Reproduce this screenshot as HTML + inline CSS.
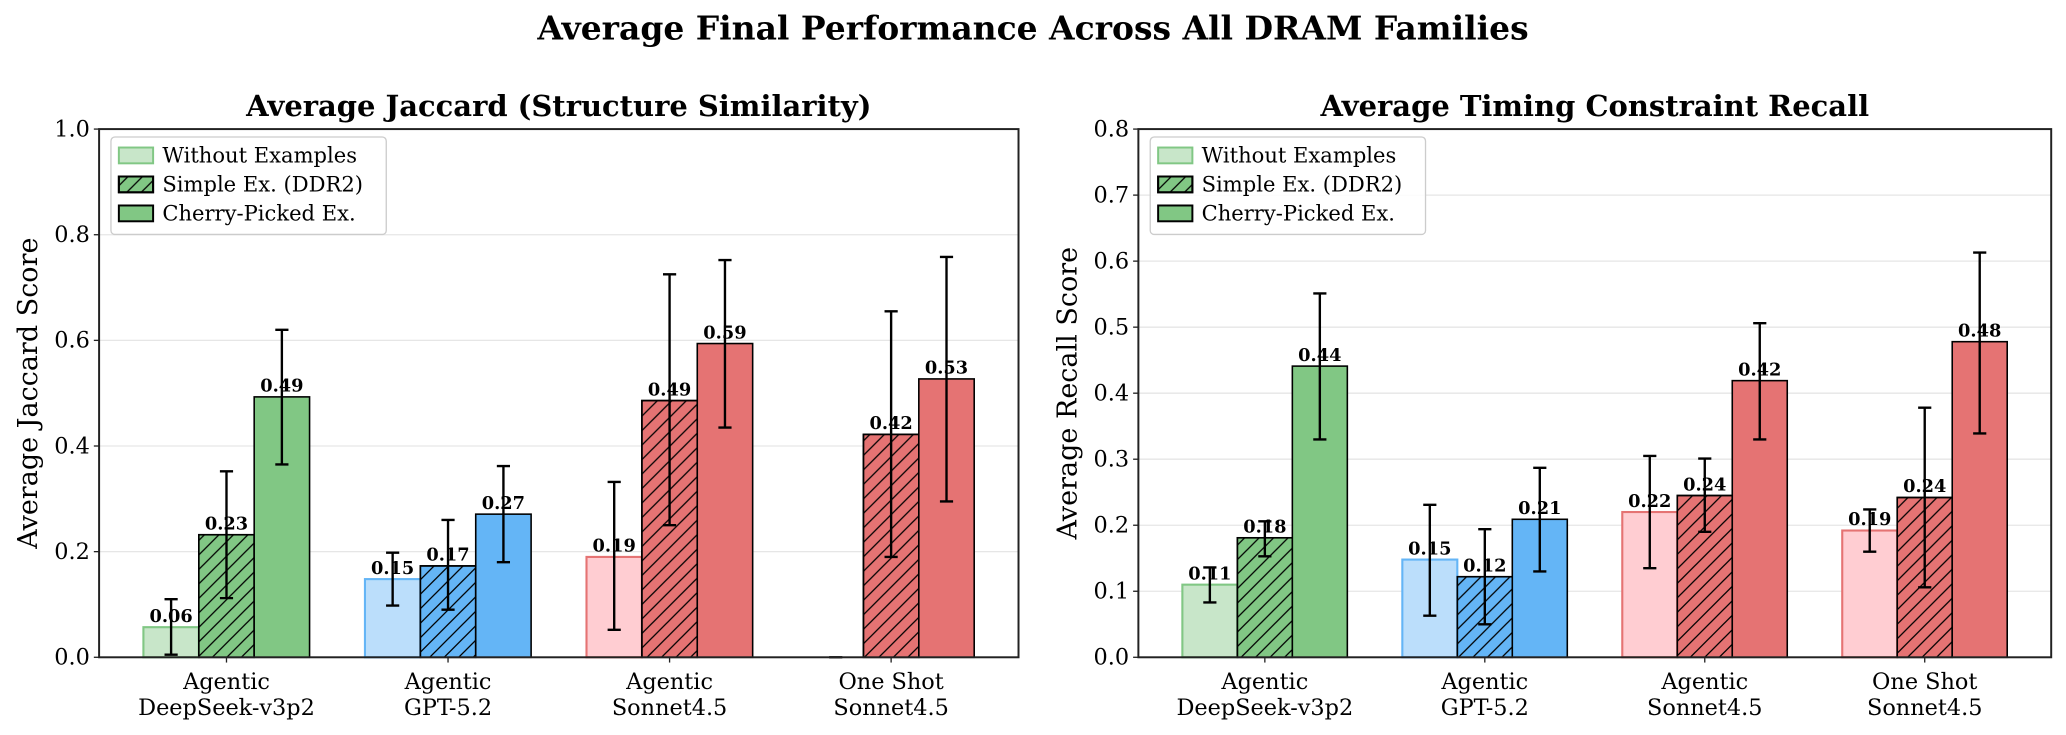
<!DOCTYPE html>
<html><head><meta charset="utf-8"><style>
html,body{margin:0;padding:0;background:#fff;}
svg{display:block;font-family:"DejaVu Serif","Liberation Serif",serif;}
</style></head><body>
<svg id="fig" width="2066" height="735" viewBox="0 0 1568 558" xmlns="http://www.w3.org/2000/svg">
<defs>
<pattern id="hatch" patternUnits="userSpaceOnUse" width="11" height="11">
<path d="M-2,13 L13,-2 M-2,2 L2,-2 M9,13 L13,9" stroke="#000" stroke-width="1"/>
</pattern>
</defs>
<text x="784" y="30" text-anchor="middle" font-size="25" font-weight="bold">Average Final Performance Across All DRAM Families</text>
</svg>
<script>
const categoriesL1 = ["Agentic","Agentic","Agentic","One Shot"];
const categoriesL2 = ["DeepSeek-v3p2","GPT-5.2","Sonnet4.5","Sonnet4.5"];
const seriesNames = ["Without Examples","Simple Ex. (DDR2)","Cherry-Picked Ex."];
const jaccardValues = [[0.057,0.148,0.19,0.0],[0.232,0.173,0.486,0.422],[0.493,0.271,0.594,0.527]];
const jaccardLow = [[0.005,0.098,0.052,0.0],[0.112,0.09,0.25,0.19],[0.365,0.18,0.435,0.295]];
const jaccardHigh = [[0.11,0.198,0.332,0.0],[0.352,0.26,0.725,0.655],[0.62,0.362,0.752,0.758]];
const recallValues = [[0.11,0.148,0.22,0.192],[0.181,0.122,0.245,0.242],[0.441,0.209,0.419,0.478]];
const recallLow = [[0.083,0.063,0.135,0.16],[0.153,0.05,0.19,0.106],[0.33,0.13,0.33,0.339]];
const recallHigh = [[0.136,0.231,0.305,0.224],[0.206,0.194,0.301,0.378],[0.551,0.287,0.506,0.613]];
const jaccardTicks = [0.0,0.2,0.4,0.6,0.8,1.0];
const recallTicks = [0.0,0.1,0.2,0.3,0.4,0.5,0.6,0.7,0.8];
const groupColors = [["#c8e6c9","#81c784"],["#bbdefb","#64b5f6"],["#ffcdd2","#e57373"],["#ffcdd2","#e57373"]];

const NS="http://www.w3.org/2000/svg";
const svg=document.getElementById('fig');
function mk(tag,attrs,parent){const e=document.createElementNS(NS,tag);for(const k in attrs)e.setAttribute(k,attrs[k]);(parent||svg).appendChild(e);return e;}

function panel(o){
  const g=mk('g',{});
  
  
  const L=o.left,R=o.right,T=98,B=499;
  const xs=v=>L+(v+0.575)/4.15*(R-L);
  const ys=v=>B-v/o.ymax*(B-T);
  const bw=0.25;
  o.ticks.forEach(t=>{
    if(t>0&&t<o.ymax){const gl=mk('line',{x1:L,x2:R,y1:ys(t),y2:ys(t),stroke:'#e6e6e6','stroke-width':1},g);
    }
  });
  for(let s=0;s<3;s++){
    for(let c=0;c<4;c++){
      const v=o.vals[s][c];
      const cx=xs(c+(s-1)*bw);
      const x0=xs(c+(s-1)*bw-bw/2), x1=xs(c+(s-1)*bw+bw/2);
      const cols=groupColors[c];
      const fill=s===0?cols[0]:cols[1];
      const stroke=s===0?cols[1]:'#000';
      const r=mk('rect',{x:x0,y:ys(v),width:x1-x0,height:ys(0)-ys(v),fill:fill,stroke:stroke,'stroke-width':s===0?1.6:1.2},g);
      
      
      if(s===1){const h=mk('rect',{x:x0,y:ys(v),width:x1-x0,height:ys(0)-ys(v),fill:'url(#hatch)',stroke:'#000','stroke-width':1.2},g);
        }
      const lo=o.lo[s][c],hi=o.hi[s][c];
      if(hi>lo){
        const eb=mk('path',{d:`M${cx},${ys(lo)}V${ys(hi)}M${cx-5},${ys(lo)}H${cx+5}M${cx-5},${ys(hi)}H${cx+5}`,stroke:'#000','stroke-width':1.8,fill:'none'},g);
        
      } else {
        const eb=mk('path',{d:`M${cx-5},${ys(lo)}H${cx+5}`,stroke:'#000','stroke-width':1.8,fill:'none'},g);
        
      }
      if(v>0){
        const tl=mk('text',{x:cx,y:ys(v)-4,'text-anchor':'middle','font-size':13.5,'font-weight':'bold'},g);
        tl.textContent=v.toFixed(2);
        
      }
    }
  }
  const sp=mk('rect',{x:L,y:T,width:R-L,height:B-T,fill:'none',stroke:'#222','stroke-width':1.5},g);
  
  o.ticks.forEach(t=>{
    mk('line',{x1:L-4,x2:L,y1:ys(t),y2:ys(t),stroke:'#222','stroke-width':1},g);
    const tt=mk('text',{x:L-7,y:ys(t)+5.5,'text-anchor':'end','font-size':17},g);
    tt.textContent=t.toFixed(1);
    
  });
  for(let c=0;c<4;c++){
    mk('line',{x1:xs(c),x2:xs(c),y1:B,y2:B+4,stroke:'#222','stroke-width':1},g);
    const t1=mk('text',{x:xs(c),y:523,'text-anchor':'middle','font-size':17},g);
    t1.textContent=categoriesL1[c];
    
    const t2=mk('text',{x:xs(c),y:543,'text-anchor':'middle','font-size':17},g);
    t2.textContent=categoriesL2[c];
    
  }
  const yt=mk('text',{x:0,y:0,'text-anchor':'middle','font-size':20.5,transform:`translate(${L-47},${(T+B)/2}) rotate(-90)`},g);
  yt.textContent=o.ylabel;
  
  const ti=mk('text',{x:(L+R)/2,y:88,'text-anchor':'middle','font-size':22,'font-weight':'bold'},g);
  ti.textContent=o.title;
  
  const lg=mk('g',{},g);
  
  mk('rect',{x:L+9,y:104,width:209,height:74,rx:3,fill:'#fff','fill-opacity':0.85,stroke:'#ccc','stroke-width':1},lg);
  for(let s=0;s<3;s++){
    const y=112+s*22;
    const pf=s===0?'#c8e6c9':'#81c784', ps=s===0?'#81c784':'#000';
    mk('rect',{x:L+15,y:y,width:26,height:12,fill:pf,stroke:ps,'stroke-width':1.5},lg);
    if(s===1)mk('rect',{x:L+15,y:y,width:26,height:12,fill:'url(#hatch)',stroke:'#000','stroke-width':1.5},lg);
    const lt=mk('text',{x:L+48,y:y+11.5,'font-size':16},lg);
    lt.textContent=seriesNames[s];
    
  }
}
panel({name:'jaccard-chart',left:75,right:773,ymax:1.0,ticks:jaccardTicks,vals:jaccardValues,lo:jaccardLow,hi:jaccardHigh,ylabel:'Average Jaccard Score',title:'Average Jaccard (Structure Similarity)'});
panel({name:'recall-chart',left:864,right:1557,ymax:0.8,ticks:recallTicks,vals:recallValues,lo:recallLow,hi:recallHigh,ylabel:'Average Recall Score',title:'Average Timing Constraint Recall'});
</script>
</body></html>
